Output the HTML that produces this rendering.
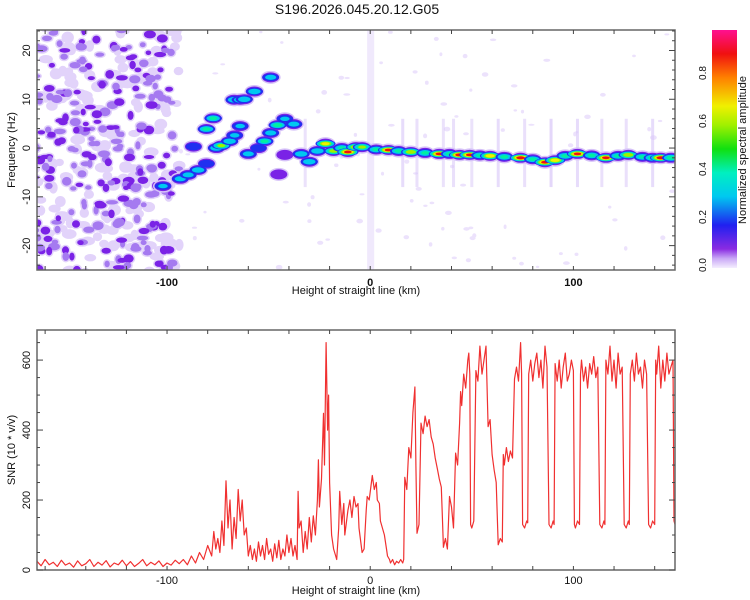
<!DOCTYPE html>
<html><head><meta charset="utf-8">
<style>
body{margin:0;background:#fff;}
svg{display:block;font-family:"Liberation Sans",sans-serif;}
</style></head>
<body>
<svg id="c" width="750" height="600" viewBox="0 0 750 600">
<defs>
<linearGradient id="cbgrad" x1="0" y1="1" x2="0" y2="0">
<stop offset="0" stop-color="#f4eefe"/><stop offset="0.04" stop-color="#c9a8f6"/>
<stop offset="0.08" stop-color="#8a2be2"/><stop offset="0.18" stop-color="#2020f0"/>
<stop offset="0.3" stop-color="#00c8f0"/><stop offset="0.4" stop-color="#00f0c0"/>
<stop offset="0.5" stop-color="#10e010"/><stop offset="0.6" stop-color="#a0f000"/>
<stop offset="0.68" stop-color="#f0f000"/><stop offset="0.8" stop-color="#ff8000"/>
<stop offset="0.9" stop-color="#f01010"/><stop offset="1" stop-color="#ff1090"/>
</linearGradient>
<clipPath id="clipTop"><rect x="37" y="30" width="638" height="240"/></clipPath>
<clipPath id="clipBot"><rect x="37" y="330" width="638" height="240"/></clipPath>
</defs>
<text x="357" y="14" text-anchor="middle" font-size="14" fill="#111">S196.2026.045.20.12.G05</text>
<g id="topPanel"></g>
<g id="cb"></g>
<g id="bot"></g>
</svg>
<script>
// ---- data ----
const xDomain = [-164, 150];
const fDomain = [-25, 24.2];
const snrDomain = [0, 686];
const xTickLabels = [-100, 0, 100];
const fTickLabels = [-20, -10, 0, 10, 20];
const snrTickLabels = [0, 200, 400, 600];
const cbTickLabels = [0.0, 0.2, 0.4, 0.6, 0.8];
// ridge blobs: km, frequency (Hz), normalized amplitude
const ridgeKm =   [-102,-93.5,-89.6,-84.7,-80.6,-75.7,-73.3,-69.2,-66.7,-64,-87,-80.6,-77.3,-67,-64,-62,-57,-49,-60,-55,-52,-49,-45.6,-42,-37.6,-42,-45,-34,-30,-26,-22,-18,-14,-11,-7,-4,3,9,14,20,27,34,39,44,49,54,59,66,74,80,86,91,96,102,109,116,122,127,134,139,143,148];
const ridgeF =    [-7.8,-6.3,-5.5,-4.5,-3.2,0,0.5,1.4,2.6,4.5,0.3,3.9,6.1,9.9,9.9,10,11.6,14.5,-1.2,0,1.4,3.1,4.7,6,4.9,-1.4,-5.4,-1.2,-2.8,-0.6,0.9,-0.6,0,-0.8,0.2,0.2,-0.3,-0.4,-0.6,-0.8,-1,-1.2,-1.2,-1.4,-1.4,-1.5,-1.6,-1.8,-2,-2.3,-2.9,-2.5,-1.6,-1.2,-1.5,-2,-1.6,-1.4,-1.8,-2,-2,-2];
const ridgeAmp =  [0.3,0.35,0.35,0.4,0.25,0.4,0.6,0.4,0.3,0.3,0.2,0.45,0.45,0.4,0.4,0.4,0.4,0.35,0.35,0.25,0.45,0.35,0.5,0.3,0.35,0.15,0.15,0.4,0.4,0.4,0.75,0.65,0.45,0.9,0.75,0.6,0.45,0.9,0.45,0.7,0.45,0.9,0.45,0.95,0.9,0.45,0.8,0.45,0.95,0.45,0.9,0.8,0.45,0.9,0.45,0.9,0.45,0.7,0.45,0.5,0.95,0.5];
// faint vertical streaks: km, amplitude
const streakKm = [-32, 16, 23, 36, 41, 50, 63, 76, 89, 102, 114, 126, 139];
const streakAmp = [0.05, 0.08, 0.06, 0.05, 0.06, 0.05, 0.08, 0.06, 0.1, 0.08, 0.06, 0.06, 0.08];
// SNR trace
const snrKm = [-164,-162,-160,-158,-156,-154,-152,-150,-148,-146,-144,-142,-140,-138,-136,-134,-132,-130,-128,-126,-124,-122,-120,-118,-116,-114,-112,-110,-108,-106,-104,-102,-100,-98,-96,-94,-92,-90,-88,-86,-84,-82,-80,-78,-77,-76,-75,-74,-73,-72,-71,-70,-69,-68,-67,-66,-65,-64,-63,-62,-61,-60,-59,-58,-57,-56,-55,-54,-53,-52,-51,-50,-49,-48,-47,-46,-45,-44,-43,-42,-41,-40,-39,-38,-37,-36,-35.5,-35,-34,-33,-32,-31,-30,-29,-28,-27,-26,-25.5,-25,-24,-23,-22.5,-21.7,-21,-20.5,-20,-19,-18,-17,-16.5,-15.5,-15,-14,-13,-12.5,-11,-10,-9,-8,-7,-6,-5.5,-4,-3,-2,-1.5,-0.5,1,2,3,3.5,4.5,5,6,7,8,8.5,9.5,10,11,12,13,14,15,16,16.5,17,18,19,20,21,22,22.5,23,24,25,26,27,28,29,30,31,32,33,34,35,35.5,36,37,38,39,40,41,42,43,44,44.5,45,46,47,48,48.5,49,49.4,50,51,52,53,54,55,56,57,58,59,60,61,62,63,64,65,65.5,66,67,68,69,70,71,72,73,74,74.5,75,76,77,77.5,78,79,80,81,82,83,84,85,86,87,88,89,90,90.5,91,92,93,94,95,96,97,98,99,100,100.5,101,102,103,103.5,104,105,106,107,108,109,110,111,112,113,114,115,115.5,116,117,118,119,120,121,122,123,124,125,126,127,127.5,128,129,130,131,132,133,134,135,136,137,138,139,140,140.5,141,142,143,144,145,146,147,148,149,149.5,150];
const snrVal = [25,12,30,15,22,10,28,14,20,8,26,12,18,30,10,22,14,27,9,20,15,28,12,24,10,19,30,12,22,15,26,10,20,14,28,18,30,15,40,20,50,30,70,40,110,60,90,50,140,70,255,120,200,60,150,90,230,140,200,100,120,40,70,30,60,25,80,40,70,30,90,45,60,25,75,35,85,30,60,40,100,50,90,40,70,30,225,120,140,50,110,60,150,80,155,100,200,315,180,260,448,300,650,400,500,250,100,60,40,30,120,225,130,190,100,170,200,150,210,180,190,120,50,60,170,210,200,270,230,250,200,190,140,120,100,60,40,30,20,30,15,25,20,30,20,30,265,230,350,320,450,523,300,105,130,420,390,440,410,430,380,360,320,290,260,237,150,65,90,60,210,180,120,334,300,420,510,470,560,520,600,620,560,130,120,140,570,540,640,560,600,640,410,430,330,285,250,72,90,80,330,300,350,310,340,320,546,580,540,650,560,130,120,140,135,560,600,540,590,620,550,600,520,640,580,130,120,140,130,590,540,600,520,580,620,540,560,600,570,130,120,140,130,560,600,540,580,520,590,560,610,550,580,130,120,140,130,600,560,640,540,600,520,620,560,580,130,120,140,130,560,600,540,620,560,580,520,600,560,130,120,140,130,600,560,640,520,600,540,620,560,580,600,140,130];

// ---- helpers ----
const NS = "http://www.w3.org/2000/svg";
const sx = km => 37 + (km - xDomain[0]) / (xDomain[1] - xDomain[0]) * 638;
const sf = f => 270 - (f - fDomain[0]) / (fDomain[1] - fDomain[0]) * 240;
const sy = v => 570 - (v - snrDomain[0]) / (snrDomain[1] - snrDomain[0]) * 240;
function mk(tag, attrs, parent) { const e = document.createElementNS(NS, tag); for (const k in attrs) e.setAttribute(k, attrs[k]); parent.appendChild(e); return e; }
const stops = [[0,"#e8dcfb"],[0.04,"#b890f2"],[0.08,"#7a22e6"],[0.18,"#2030f0"],[0.3,"#00c8f0"],[0.4,"#00f0a0"],[0.5,"#10e010"],[0.6,"#a0f000"],[0.68,"#f0f000"],[0.8,"#ff8000"],[0.9,"#f01010"],[1,"#ff1090"]];
function col(a){ let c = stops[0][1]; for (const s of stops) if (a >= s[0]) c = s[1]; return c; }

const topG = document.getElementById('topPanel');
const botG = document.getElementById('bot');
const cbG = document.getElementById('cb');

// ---- spectrogram ----
const heat = mk('g', {'clip-path':'url(#clipTop)'}, topG);


{
  const b = mk('rect', {x: sx(-1.5), y: 30, width: 7, height: 240, fill: '#f0e9fc'}, heat);
  
  
}
let seed = 11;
const rnd = () => { seed = (seed * 16807) % 2147483647; return seed / 2147483647; };
// noise texture (left region): light halos then darker cores
const specks = [];
for (let i = 0; i < 420; i++) {
  specks.push([-166 + rnd() * 72, -26 + rnd() * 52, rnd(), 2.5 + rnd() * 3.5, 2 + rnd() * 2.5]);
}
specks.forEach(s => {
  const n = mk('ellipse', {cx: sx(s[0]).toFixed(1), cy: sf(s[1]).toFixed(1), rx: (s[3] + 1.5).toFixed(1), ry: (s[4] + 1.5).toFixed(1), fill: '#e2d3fa'}, heat);
  
  
});
specks.forEach(s => {
  if (s[2] > 0.35) mk('ellipse', {cx: sx(s[0]).toFixed(1), cy: sf(s[1]).toFixed(1), rx: s[3].toFixed(1), ry: s[4].toFixed(1), fill: s[2] > 0.7 ? '#7a22e6' : '#a57af0'}, heat);
});
for (let i = 0; i < 110; i++) {
  const km = -95 + rnd() * 245, f = -26 + rnd() * 52;
  mk('ellipse', {cx: sx(km).toFixed(1), cy: sf(f).toFixed(1), rx: (1.5 + rnd() * 2).toFixed(1), ry: (1 + rnd() * 1.5).toFixed(1), fill: '#ece2fc'}, heat);
}
streakKm.forEach((km, i) => {
  const s = mk('rect', {x: sx(km) - 1.5, y: sf(6), width: 3, height: sf(-8) - sf(6), fill: '#d8c6f8', opacity: 0.3 + streakAmp[i] * 4}, heat);
  
  
});
const nR = Math.min(ridgeKm.length, ridgeF.length, ridgeAmp.length);
for (let i = 0; i < nR; i++) {
  mk('ellipse', {cx: sx(ridgeKm[i]), cy: sf(ridgeF[i]), rx: 10, ry: 6.5, fill: '#d6c2f8'}, heat);
}
for (let i = 0; i < nR; i++) {
  mk('ellipse', {cx: sx(ridgeKm[i]), cy: sf(ridgeF[i]), rx: 8.5, ry: 5, fill: '#7a22e6'}, heat);
}
for (let i = 0; i < nR; i++) {
  const km = ridgeKm[i];
  const g = mk('g', {}, heat);
  
  
  const levels = [0.18, 0.3, 0.45, 0.6, 0.75, 0.9];
  const a = ridgeAmp[i];
  const baseRx = 7 + a * 4, baseRy = 3.8;
  levels.forEach(l => {
    if (l > a) return;
    const k = 1 - ((l - 0.18) / (a - 0.1)) * 0.7;
    mk('ellipse', {cx: sx(km), cy: sf(ridgeF[i]), rx: baseRx * k, ry: baseRy * k, fill: col(l)}, g);
  });
}
const fr = mk('rect', {x: 37, y: 30, width: 638, height: 240, fill: 'none', stroke: '#666', 'stroke-width': 1.5}, topG);


function xTicks(parent, y0, y1) {
  for (let km = -160; km <= 150; km += 20) {
    mk('line', {x1: sx(km), x2: sx(km), y1: y0, y2: y0 + 4, stroke: '#444'}, parent);
    mk('line', {x1: sx(km), x2: sx(km), y1: y1, y2: y1 - 4, stroke: '#444'}, parent);
  }
}
xTicks(topG, 30, 270);
for (let f = -24; f <= 24; f += 2) {
  mk('line', {x1: 37, x2: f % 10 === 0 ? 43 : 40, y1: sf(f), y2: sf(f), stroke: '#444'}, topG);
  mk('line', {x1: 675, x2: f % 10 === 0 ? 669 : 672, y1: sf(f), y2: sf(f), stroke: '#444'}, topG);
}
xTickLabels.forEach(v => {
  const t = mk('text', {x: sx(v), y: 286, 'text-anchor': 'middle', 'font-size': 11, 'font-weight': 'bold', fill: '#111'}, topG);
  t.textContent = v;
  
  
});
fTickLabels.forEach(v => {
  const t = mk('text', {x: 0, y: 0, 'text-anchor': 'middle', 'font-size': 11, fill: '#111', transform: `translate(30,${sf(v)}) rotate(-90)`}, topG);
  t.textContent = v;
  
  
});
{
  const t = mk('text', {x: 356, y: 294, 'text-anchor': 'middle', 'font-size': 11, fill: '#111'}, topG);
  t.textContent = 'Height of straight line (km)';
  
  
  const t2 = mk('text', {x: 0, y: 0, 'text-anchor': 'middle', 'font-size': 11, fill: '#111', transform: 'translate(15,150) rotate(-90)'}, topG);
  t2.textContent = 'Frequency (Hz)';
  
  
}
// ---- colorbar ----
{
  const r = mk('rect', {x: 712, y: 30, width: 25, height: 238, fill: 'url(#cbgrad)'}, cbG);
  
  
  cbTickLabels.forEach(v => {
    const y = 265 - v * 240;
    const t = mk('text', {x: 0, y: 0, 'text-anchor': 'middle', 'font-size': 10, fill: '#111', transform: `translate(706,${y}) rotate(-90)`}, cbG);
    t.textContent = v.toFixed(1);
    
    
  });
  const t = mk('text', {x: 0, y: 0, 'text-anchor': 'middle', 'font-size': 11, fill: '#111', transform: 'translate(746,150) rotate(-90)'}, cbG);
  t.textContent = 'Normalized spectral amplitude';
  
  
}
// ---- SNR panel ----
{
  const nS = Math.min(snrKm.length, snrVal.length);
  const pts = [];
  for (let i = 0; i < nS; i++) pts.push(`${sx(snrKm[i]).toFixed(1)},${sy(snrVal[i]).toFixed(1)}`);
  const g = mk('g', {'clip-path': 'url(#clipBot)'}, botG);
  const l = mk('polyline', {points: pts.join(' '), fill: 'none', stroke: '#f03030', 'stroke-width': 1.2, 'stroke-linejoin': 'round'}, g);
  
  
  const f = mk('rect', {x: 37, y: 330, width: 638, height: 240, fill: 'none', stroke: '#666', 'stroke-width': 1.5}, botG);
  
  
  xTicks(botG, 330, 570);
  for (let v = 0; v <= 650; v += 50) {
    mk('line', {x1: 37, x2: v % 200 === 0 ? 43 : 40, y1: sy(v), y2: sy(v), stroke: '#444'}, botG);
    mk('line', {x1: 675, x2: v % 200 === 0 ? 669 : 672, y1: sy(v), y2: sy(v), stroke: '#444'}, botG);
  }
  xTickLabels.forEach(v => {
    const t = mk('text', {x: sx(v), y: 584, 'text-anchor': 'middle', 'font-size': 11, fill: '#111'}, botG);
    t.textContent = v;
    
    
  });
  snrTickLabels.forEach(v => {
    const t = mk('text', {x: 0, y: 0, 'text-anchor': 'middle', 'font-size': 11, fill: '#111', transform: `translate(30,${sy(v)}) rotate(-90)`}, botG);
    t.textContent = v;
    
    
  });
  const t = mk('text', {x: 356, y: 594, 'text-anchor': 'middle', 'font-size': 11, fill: '#111'}, botG);
  t.textContent = 'Height of straight line (km)';
  
  
  const t2 = mk('text', {x: 0, y: 0, 'text-anchor': 'middle', 'font-size': 11, fill: '#111', transform: 'translate(15,450) rotate(-90)'}, botG);
  t2.textContent = 'SNR (10 * v/v)';
  
  
}
</script>
</body></html>
